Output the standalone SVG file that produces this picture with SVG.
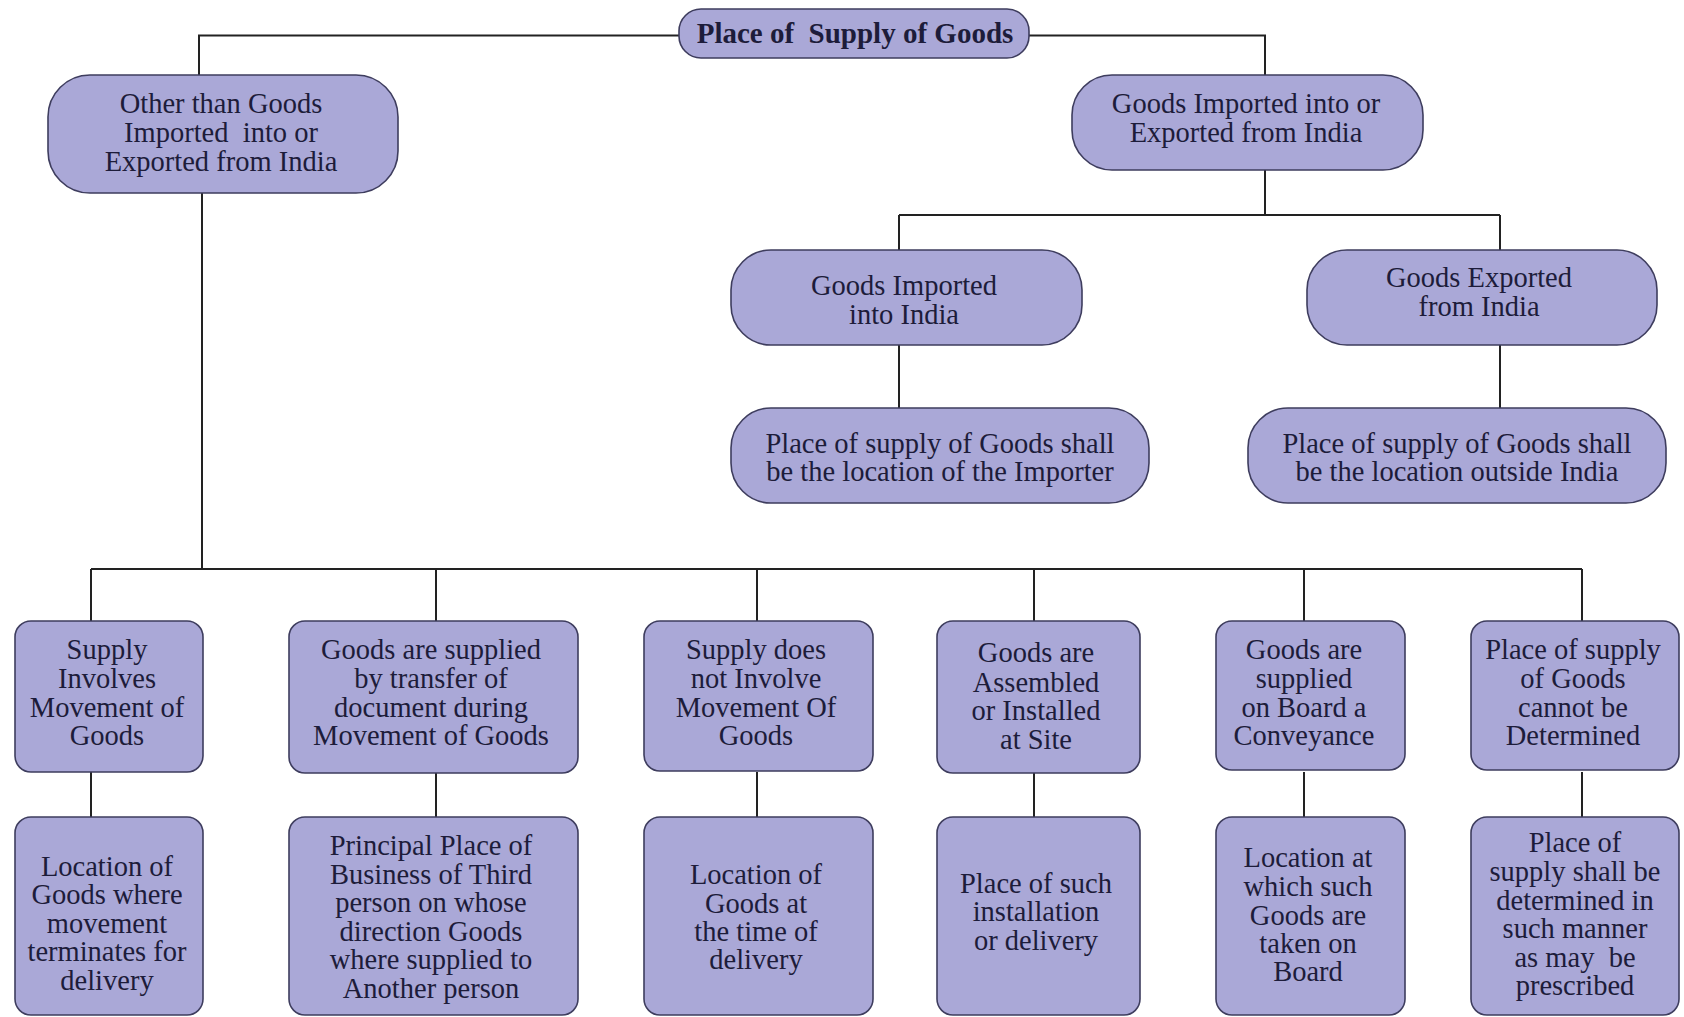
<svg xmlns="http://www.w3.org/2000/svg" width="1684" height="1017" viewBox="0 0 1684 1017">
<style>
.b{fill:#aaa8d7;stroke:#3e3d5e;stroke-width:1.6}
.t{font-family:"Liberation Serif","Times New Roman",serif;font-size:28.5px;fill:#1d1c3a;text-anchor:middle}
.h{font-weight:bold;font-size:29px}
.c{fill:none;stroke:#222;stroke-width:2}
</style>
<rect width="1684" height="1017" fill="#ffffff"/>
<g id="connectors" class="c">
<path d="M199,75V35.5H679M1029,35.5H1265V75"/>
<path d="M1265,170V215M899,215H1500M899,215V250M1500,215V250"/>
<path d="M899,345V408M1500,345V408"/>
<path d="M202,193V569M91,569H1582"/>
<path d="M91,569V621M436,569V621M757,569V621M1034,569V621M1304,569V621M1582,569V621"/>
<path d="M91,772V817M436,772V817M757,772V817M1034,772V817M1304,772V817M1582,772V817"/>
</g>
<g id="root"><rect class="b" x="679" y="9" width="350" height="49" rx="22"/><text class="t h" x="855" y="43" xml:space="preserve">Place of  Supply of Goods</text></g>
<g id="other"><rect class="b" x="48" y="75" width="350" height="118" rx="42"/><text class="t" x="221"><tspan x="221" y="113">Other than Goods</tspan><tspan x="221" y="142" xml:space="preserve">Imported  into or</tspan><tspan x="221" y="171">Exported from India</tspan></text></g>
<g id="impexp"><rect class="b" x="1072" y="75" width="351" height="95" rx="40"/><text class="t"><tspan x="1246" y="113">Goods Imported into or</tspan><tspan x="1246" y="142">Exported from India</tspan></text></g>
<g id="imported"><rect class="b" x="731" y="250" width="351" height="95" rx="40"/><text class="t"><tspan x="904" y="295">Goods Imported</tspan><tspan x="904" y="324">into India</tspan></text></g>
<g id="exported"><rect class="b" x="1307" y="250" width="350" height="95" rx="40"/><text class="t"><tspan x="1479" y="287">Goods Exported</tspan><tspan x="1479" y="316">from India</tspan></text></g>
<g id="importer"><rect class="b" x="731" y="408" width="418" height="95" rx="40"/><text class="t"><tspan x="940" y="453">Place of supply of Goods shall</tspan><tspan x="940" y="481">be the location of the Importer</tspan></text></g>
<g id="outside"><rect class="b" x="1248" y="408" width="418" height="95" rx="40"/><text class="t"><tspan x="1457" y="453">Place of supply of Goods shall</tspan><tspan x="1457" y="481">be the location outside India</tspan></text></g>
<g id="a1"><rect class="b" x="15" y="621" width="188" height="151" rx="16"/><text class="t"><tspan x="107" y="659">Supply</tspan><tspan x="107" y="688">Involves</tspan><tspan x="107" y="717">Movement of</tspan><tspan x="107" y="745">Goods</tspan></text></g>
<g id="a2"><rect class="b" x="289" y="621" width="289" height="152" rx="16"/><text class="t"><tspan x="431" y="659">Goods are supplied</tspan><tspan x="431" y="688">by transfer of</tspan><tspan x="431" y="717">document during</tspan><tspan x="431" y="745">Movement of Goods</tspan></text></g>
<g id="a3"><rect class="b" x="644" y="621" width="229" height="150" rx="16"/><text class="t"><tspan x="756" y="659">Supply does</tspan><tspan x="756" y="688">not Involve</tspan><tspan x="756" y="717">Movement Of</tspan><tspan x="756" y="745">Goods</tspan></text></g>
<g id="a4"><rect class="b" x="937" y="621" width="203" height="152" rx="16"/><text class="t"><tspan x="1036" y="662">Goods are</tspan><tspan x="1036" y="692">Assembled</tspan><tspan x="1036" y="720">or Installed</tspan><tspan x="1036" y="749">at Site</tspan></text></g>
<g id="a5"><rect class="b" x="1216" y="621" width="189" height="149" rx="16"/><text class="t"><tspan x="1304" y="659">Goods are</tspan><tspan x="1304" y="688">supplied</tspan><tspan x="1304" y="717">on Board a</tspan><tspan x="1304" y="745">Conveyance</tspan></text></g>
<g id="a6"><rect class="b" x="1471" y="621" width="208" height="149" rx="16"/><text class="t"><tspan x="1573" y="659">Place of supply</tspan><tspan x="1573" y="688">of Goods</tspan><tspan x="1573" y="717">cannot be</tspan><tspan x="1573" y="745">Determined</tspan></text></g>
<g id="b1"><rect class="b" x="15" y="817" width="188" height="198" rx="16"/><text class="t"><tspan x="107" y="876">Location of</tspan><tspan x="107" y="904">Goods where</tspan><tspan x="107" y="933">movement</tspan><tspan x="107" y="961">terminates for</tspan><tspan x="107" y="990">delivery</tspan></text></g>
<g id="b2"><rect class="b" x="289" y="817" width="289" height="198" rx="16"/><text class="t"><tspan x="431" y="855">Principal Place of</tspan><tspan x="431" y="884">Business of Third</tspan><tspan x="431" y="912">person on whose</tspan><tspan x="431" y="941">direction Goods</tspan><tspan x="431" y="969">where supplied to</tspan><tspan x="431" y="998">Another person</tspan></text></g>
<g id="b3"><rect class="b" x="644" y="817" width="229" height="198" rx="16"/><text class="t"><tspan x="756" y="884">Location of</tspan><tspan x="756" y="913">Goods at</tspan><tspan x="756" y="941">the time of</tspan><tspan x="756" y="969">delivery</tspan></text></g>
<g id="b4"><rect class="b" x="937" y="817" width="203" height="198" rx="16"/><text class="t"><tspan x="1036" y="893">Place of such</tspan><tspan x="1036" y="921">installation</tspan><tspan x="1036" y="950">or delivery</tspan></text></g>
<g id="b5"><rect class="b" x="1216" y="817" width="189" height="198" rx="16"/><text class="t"><tspan x="1308" y="867">Location at</tspan><tspan x="1308" y="896">which such</tspan><tspan x="1308" y="925">Goods are</tspan><tspan x="1308" y="953">taken on</tspan><tspan x="1308" y="981">Board</tspan></text></g>
<g id="b6"><rect class="b" x="1471" y="817" width="208" height="198" rx="16"/><text class="t"><tspan x="1575" y="852">Place of</tspan><tspan x="1575" y="881">supply shall be</tspan><tspan x="1575" y="910">determined in</tspan><tspan x="1575" y="938">such manner</tspan><tspan x="1575" y="967" xml:space="preserve">as may  be</tspan><tspan x="1575" y="995">prescribed</tspan></text></g>
</svg>
